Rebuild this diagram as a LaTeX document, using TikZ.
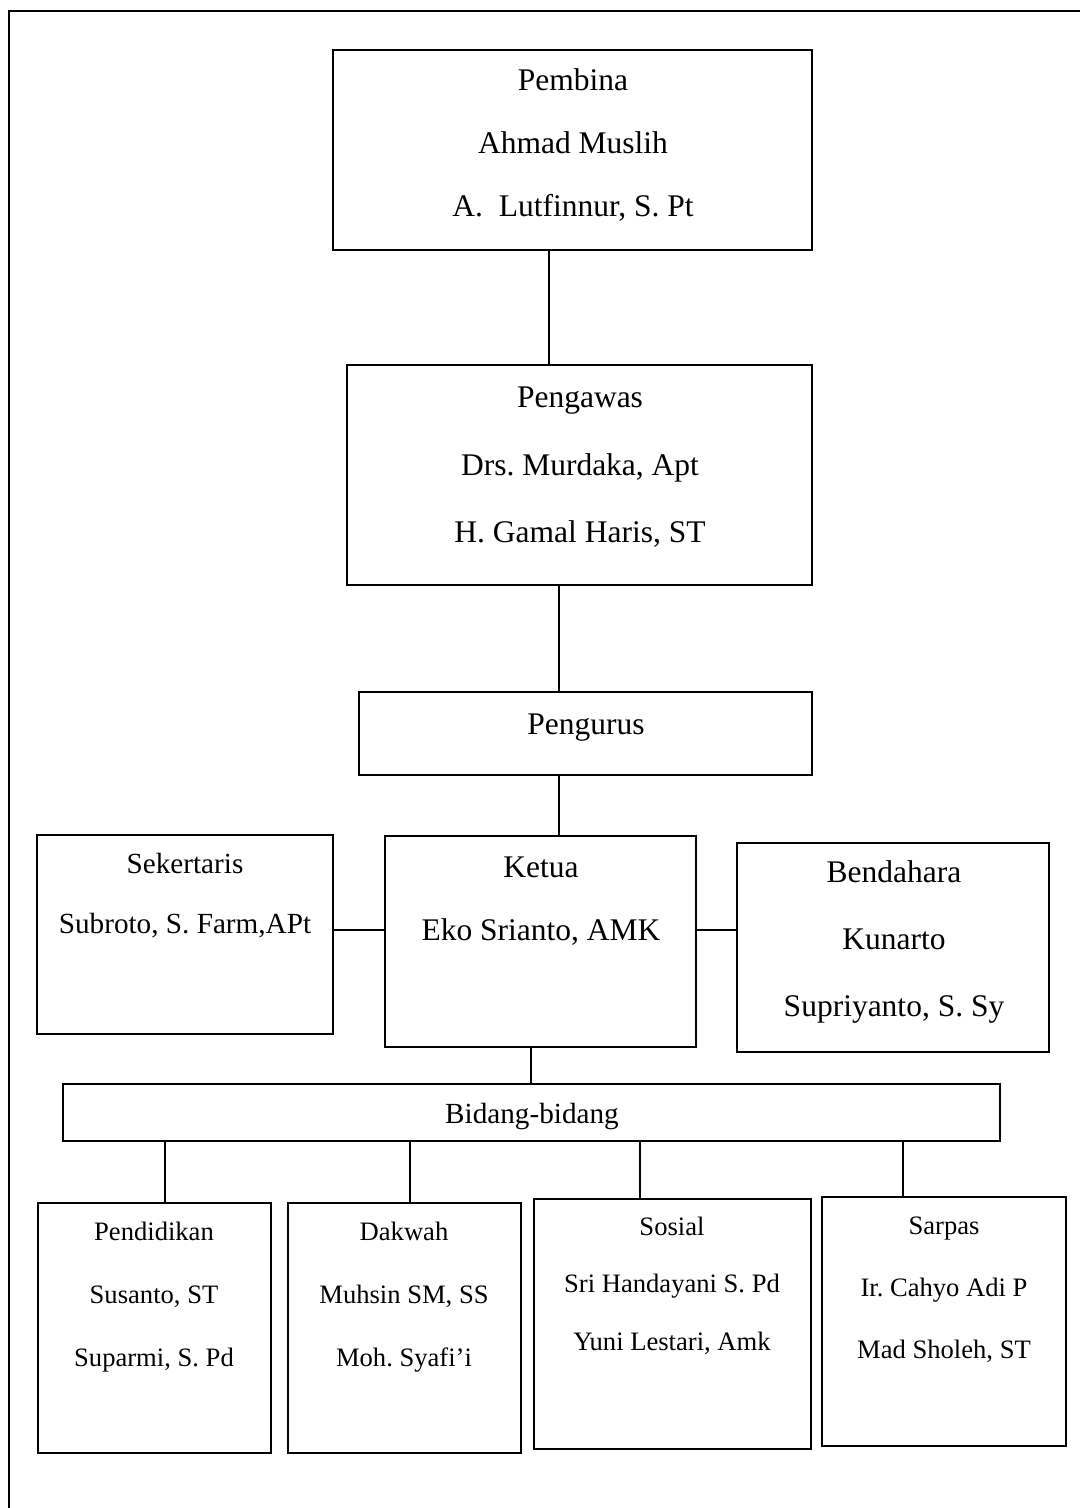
\documentclass[tikz,border=0pt]{standalone}
\usepackage{fontspec}
\setmainfont{Liberation Serif}
\usetikzlibrary{fit}
\frenchspacing
\begin{document}
\begin{tikzpicture}[x=0.5pt,y=-0.5pt]

\tikzset{box/.style={draw, line width=1pt, inner sep=0pt, outer sep=0pt},
conn/.style={line width=0.8pt},
%three text sizes, lines centred on a fixed height
big/.style={font=\fontsize{15.75}{18}\selectfont, inner sep=0pt, text height=0.7em, text depth=0.2em, yshift=-2.5pt},
mid/.style={font=\fontsize{14.6}{17}\selectfont, inner sep=0pt, text height=0.7em, text depth=0.2em, yshift=-2.5pt},
small/.style={font=\fontsize{13.3}{16}\selectfont, inner sep=0pt, text height=0.7em, text depth=0.2em, yshift=-2pt}}

\useasboundingbox (0,0) rectangle (1080,1508);

\draw [line width=1pt] (9,1530) -- (9,11) -- (1100,11);

\node [box, fit={(333,50) (812,250)}] (pembina) {};
\node [box, fit={(347,365) (812,585)}] (pengawas) {};
\node [box, fit={(359,692) (812,775)}] (pengurus) {};
\node [box, fit={(385,836) (696,1047)}] (ketua) {};
\node [box, fit={(37,835) (333,1034)}] (sekretaris) {};
\node [box, fit={(737,843) (1049,1052)}] (bendahara) {};
\node [box, fit={(63,1084) (1000,1141)}] (bidang) {};
\node [box, fit={(38,1203) (271,1453)}] (pendidikan) {};
\node [box, fit={(288,1203) (521,1453)}] (dakwah) {};
\node [box, fit={(534,1199) (811,1449)}] (sosial) {};
\node [box, fit={(822,1197) (1066,1446)}] (sarpas) {};

\foreach \txt [count=\i] in {Pembina, Ahmad Muslih, {A.~~Lutfinnur, S. Pt}}
  \node [big] (pembina-\i) at (573,18+63*\i) {\txt};
\foreach \txt [count=\i] in {Pengawas, {Drs. Murdaka, Apt}, {H. Gamal Haris, ST}}
  \node [big] (pengawas-\i) at (580,330+67.5*\i) {\txt};
\node [big] (pengurus-1) at (586,724) {Pengurus};
\foreach \txt [count=\i] in {Ketua, {Eko Srianto, AMK}}
  \node [big] (ketua-\i) at (541,804+63*\i) {\txt};
\foreach \txt [count=\i] in {Sekertaris, {Subroto, S. Farm,APt}}
  \node [mid] (sekretaris-\i) at (185,803+60*\i) {\txt};
\foreach \txt [count=\i] in {Bendahara, Kunarto, {Supriyanto, S. Sy}}
  \node [big] (bendahara-\i) at (894,805+67*\i) {\txt};
\node [mid] (bidang-1) at (532,1113) {Bidang-bidang};
\foreach \txt [count=\i] in {Pendidikan, {Susanto, ST}, {Suparmi, S. Pd}}
  \node [small] (pendidikan-\i) at (154,1168+63*\i) {\txt};
\foreach \txt [count=\i] in {Dakwah, {Muhsin SM, SS}, {Moh. Syafi’i}}
  \node [small] (dakwah-\i) at (404,1168+63*\i) {\txt};
\foreach \txt [count=\i] in {Sosial, {Sri Handayani S. Pd}, {Yuni Lestari, Amk}}
  \node [small] (sosial-\i) at (672,1168.5+57.5*\i) {\txt};
\foreach \txt [count=\i] in {Sarpas, {Ir. Cahyo Adi P}, {Mad Sholeh, ST}}
  \node [small] (sarpas-\i) at (944,1163+62*\i) {\txt};

\coordinate (col1) at (549,0);
\coordinate (col2) at (559,0);
\coordinate (col3) at (531,0);
\coordinate (row1) at (0,930);

\draw [conn] (pembina.south -| col1) -- (pengawas.north -| col1);
\draw [conn] (pengawas.south -| col2) -- (pengurus.north -| col2);
\draw [conn] (pengurus.south -| col2) -- (ketua.north -| col2);
\draw [conn] (sekretaris.east |- row1) -- (ketua.west |- row1);
\draw [conn] (ketua.east |- row1) -- (bendahara.west |- row1);
\draw [conn] (ketua.south -| col3) -- (bidang.north -| col3);

\foreach \b/\x in {pendidikan/165, dakwah/410, sosial/640, sarpas/903}{
  \coordinate (\b-col) at (\x,0);
  \draw [conn] (bidang.south -| \b-col) -- (\b.north -| \b-col);
}

\end{tikzpicture}
\end{document}
